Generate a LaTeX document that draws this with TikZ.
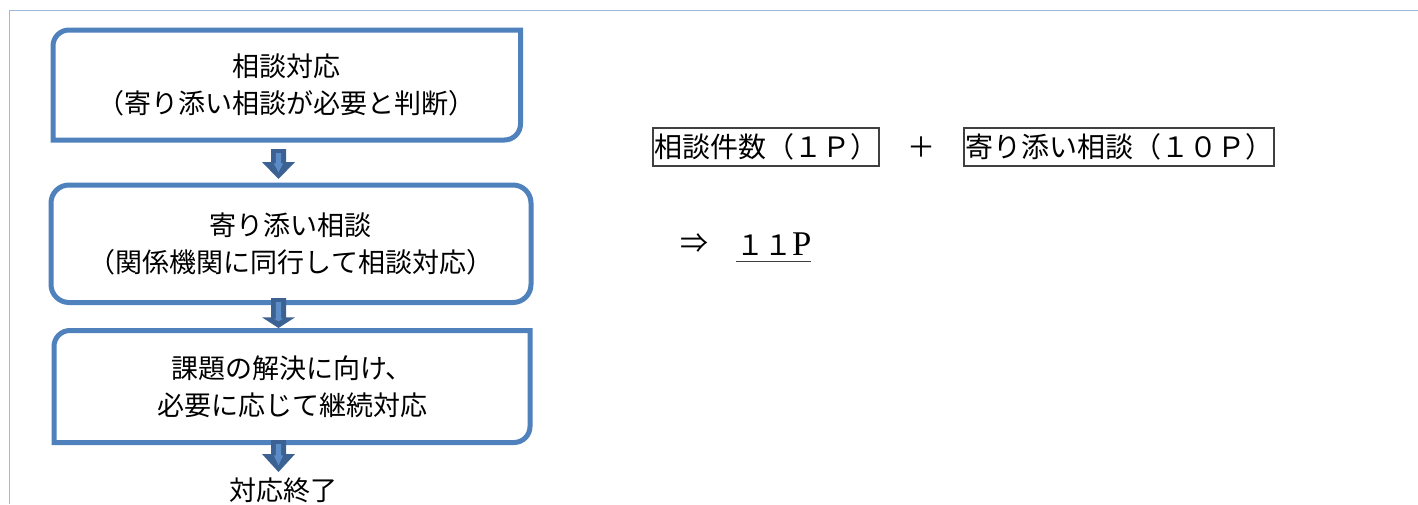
\documentclass[tikz,border=0pt]{standalone}
\usepackage{fontspec}
\setmainfont{Noto Sans CJK JP}
\newfontfamily\latinserif{Liberation Serif}
\usetikzlibrary{calc}
\definecolor{boxblue}{HTML}{4F81BD}
\definecolor{arrdark}{HTML}{3C6293}
\definecolor{arrlight}{HTML}{5B8CC8}
\definecolor{framecol}{HTML}{9FB9DB}
\definecolor{sumline}{HTML}{404040}
\newcommand\snipbox[2]{%
  \draw[boxline] (#1.south west) -- ([yshift=-#2]#1.north west)
    arc[start angle=180,end angle=90,radius=#2] -- (#1.north east)
    -- ([yshift=#2]#1.south east) arc[start angle=0,end angle=-90,radius=#2] -- cycle;}
\newcommand\blockarrow[3]{%
  \fill[arrdark] let \p1=(#1), \p2=(#2) in
    (\x1-5.625pt,\y1) -- (\x1+5.625pt,\y1) -- (\x1+5.625pt,\y2+#3) -- (\x1+12.375pt,\y2+#3)
    -- (\x1,\y2) -- (\x1-12.375pt,\y2+#3) -- (\x1-5.625pt,\y2+#3) -- cycle;
  \fill[arrlight] let \p1=(#1), \p2=(#2) in
    (\x1-1.9pt,\y1-3pt) -- (\x1+1.9pt,\y1-3pt) -- (\x1+1.9pt,\y2+#3-1pt) -- (\x1+3.5pt,\y2+#3-1pt)
    -- (\x1,\y2+5pt) -- (\x1-3.5pt,\y2+#3-1pt) -- (\x1-1.9pt,\y2+#3-1pt) -- cycle;}
\begin{document}
\begin{tikzpicture}[x=0.75pt,y=-0.75pt,
  flowbox/.style={inner sep=0pt,outer sep=0pt,align=center,
    font=\fontsize{20.25pt}{27.75pt}\selectfont},
  boxline/.style={draw=boxblue,line width=3.75pt,line join=miter},
  roundbox/.style={flowbox,draw=boxblue,line width=3.75pt,rounded corners=13.5pt},
  plain/.style={inner sep=0pt,outer sep=0pt,font=\fontsize{20.25pt}{24pt}\selectfont},
  sumtext/.style={inner sep=0pt,outer sep=0pt,font=\fontsize{21pt}{24pt}\selectfont},
  sumbox/.style={sumtext,draw=sumline,line width=0.8pt,inner xsep=0.75pt,minimum height=38*0.75pt}]
\useasboundingbox (0,0) rectangle (1418,504);
\fill[white] (0,0) rectangle (1418,504);
% frame
\draw[framecol,line width=1.2pt] (9.5,504) -- (9.5,10.5) -- (1418,10.5);
% flow boxes
\node[flowbox,minimum width=467.5*0.75pt,minimum height=110*0.75pt] (b1) at (286.75,85)
  {相談対応\\（寄り添い相談が必要と判断）};
\snipbox{b1}{12pt}
\node[roundbox,minimum width=480*0.75pt,minimum height=117.5*0.75pt] (b2) at (291,243.75)
  {寄り添い相談\\（関係機関に同行して相談対応）};
\node[flowbox,minimum width=476*0.75pt,minimum height=112*0.75pt] (b3) at (292,386.5)
  {課題の解決に向け、\\必要に応じて継続対応};
\snipbox{b3}{12pt}
\node[plain] (end) at (283,490) {対応終了};
% block arrows
\coordinate (ax) at (278.5,0);
\coordinate (a1s) at ($(b1.south -| ax)+(0,9)$);
\coordinate (a1e) at ($(b2.north -| ax)+(0,-6)$);
\coordinate (a2s) at ($(b2.south -| ax)+(0,-4.5)$);
\coordinate (a2e) at ($(b3.north -| ax)+(0,-2.5)$);
\coordinate (a3s) at ($(b3.south -| ax)+(0,-2.5)$);
\coordinate (a3e) at ($(end.north -| ax)+(0,-5.5)$);
\blockarrow{a1s}{a1e}{12.75pt}
\blockarrow{a2s}{a2e}{8pt}
\blockarrow{a3s}{a3e}{13.5pt}
% right side
\node[sumbox,anchor=west] (s1) at (653,147) {相談件数（１Ｐ）};
\node[sumtext] (plus) at (921,147) {＋};
\node[sumbox,anchor=west] (s2) at (964,147) {寄り添い相談（１０Ｐ）};
\node[sumtext] (impl) at (694,244) {⇒};
\node[sumtext,anchor=west] (res) at (736,244) {１１{\latinserif\fontsize{26pt}{28pt}\selectfont P}};
\draw[sumline,line width=0.9pt] ([yshift=-4.5pt]res.base west) -- ([yshift=-4.5pt]res.base east);
\end{tikzpicture}
\end{document}
